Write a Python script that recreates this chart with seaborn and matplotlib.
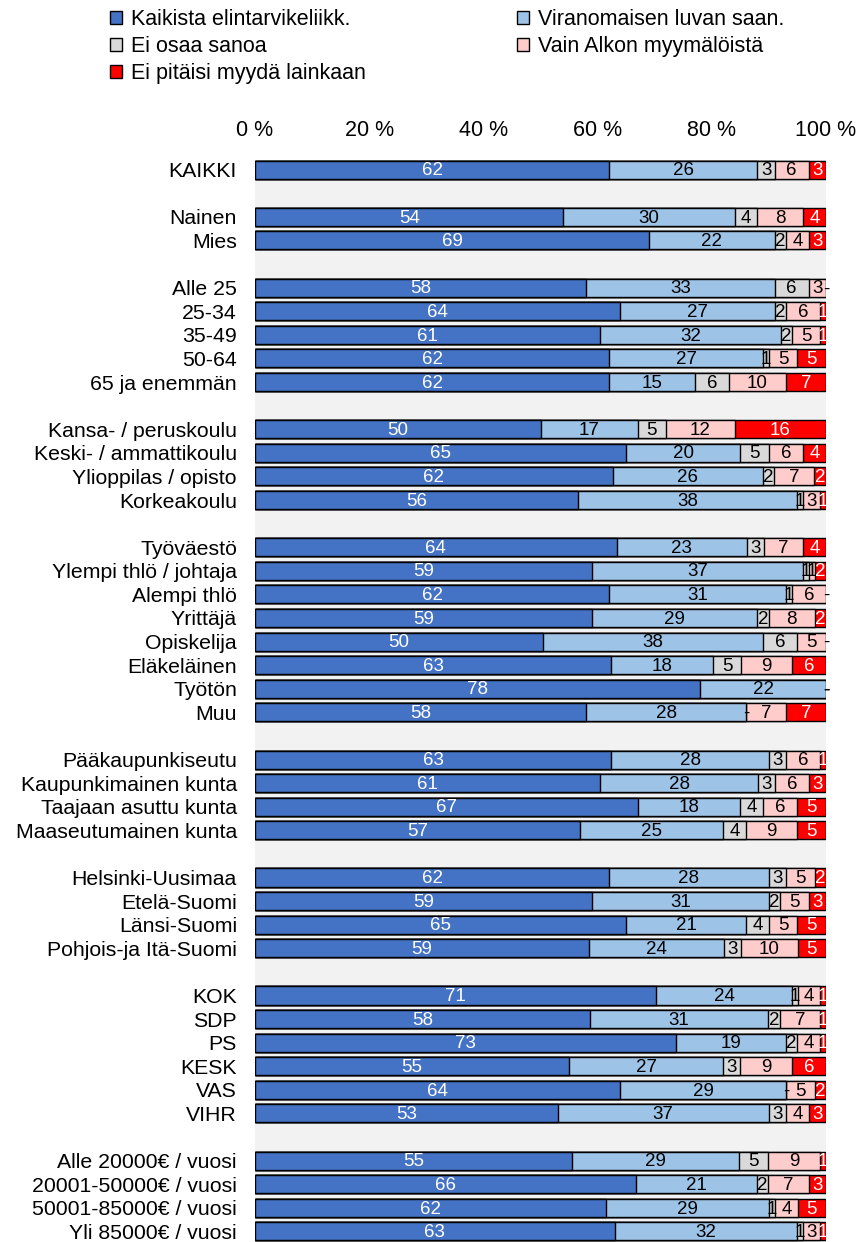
import numpy as np
import pandas as pd
import matplotlib.pyplot as plt
import seaborn as sb
from matplotlib.patches import Patch

series = ["Kaikista elintarvikeliikk.", "Viranomaisen luvan saan.", "Ei osaa sanoa",
          "Vain Alkon myymälöistä", "Ei pitäisi myydä lainkaan"]
colors = ["#4472C4", "#9DC3E6", "#D9D9D9", "#FFCCCC", "#FF0000"]
text_colors = ["white", "black", "black", "black", "white"]

# groups of rows, an empty row is left between the groups
groups = [
    ["KAIKKI"],
    ["Nainen", "Mies"],
    ["Alle 25", "25-34", "35-49", "50-64", "65 ja enemmän"],
    ["Kansa- / peruskoulu", "Keski- / ammattikoulu", "Ylioppilas / opisto", "Korkeakoulu"],
    ["Työväestö", "Ylempi thlö / johtaja", "Alempi thlö", "Yrittäjä", "Opiskelija",
     "Eläkeläinen", "Työtön", "Muu"],
    ["Pääkaupunkiseutu", "Kaupunkimainen kunta", "Taajaan asuttu kunta", "Maaseutumainen kunta"],
    ["Helsinki-Uusimaa", "Etelä-Suomi", "Länsi-Suomi", "Pohjois-ja Itä-Suomi"],
    ["KOK", "SDP", "PS", "KESK", "VAS", "VIHR"],
    ["Alle 20000€ / vuosi", "20001-50000€ / vuosi", "50001-85000€ / vuosi", "Yli 85000€ / vuosi"],
]

kaikista = [62, 54, 69, 58, 64, 61, 62, 62, 50, 65, 62, 56, 64, 59, 62, 59, 50, 63, 78, 58,
            63, 61, 67, 57, 62, 59, 65, 59, 71, 58, 73, 55, 64, 53, 55, 66, 62, 63]
viranomainen = [26, 30, 22, 33, 27, 32, 27, 15, 17, 20, 26, 38, 23, 37, 31, 29, 38, 18, 22, 28,
                28, 28, 18, 25, 28, 31, 21, 24, 24, 31, 19, 27, 29, 37, 29, 21, 29, 32]
eos = [3, 4, 2, 6, 2, 2, 1, 6, 5, 5, 2, 1, 3, 1, 1, 2, 6, 5, 0, 0,
       3, 3, 4, 4, 3, 2, 4, 3, 1, 2, 2, 3, 0, 3, 5, 2, 1, 1]
alko = [6, 8, 4, 3, 6, 5, 5, 10, 12, 6, 7, 3, 7, 1, 6, 8, 5, 9, 0, 7,
        6, 6, 6, 9, 5, 5, 5, 10, 4, 7, 4, 9, 5, 4, 9, 7, 4, 3]
ei_myyda = [3, 4, 3, 0, 1, 1, 5, 7, 16, 4, 2, 1, 4, 2, 0, 2, 0, 6, 0, 7,
            1, 3, 5, 5, 2, 3, 5, 5, 1, 1, 1, 6, 2, 3, 1, 3, 5, 1]

labels = [l for g in groups for l in g]
df = pd.DataFrame({"label": labels, series[0]: kaikista, series[1]: viranomainen,
                   series[2]: eos, series[3]: alko, series[4]: ei_myyda})

# 100 % stacked: share of row total, cumulated
vals = df[series].astype(float)
pct = vals.div(vals.sum(axis=1), axis=0) * 100
cum = pct.cumsum(axis=1)
for s in series:
    df["cum_" + s] = cum[s]

order = []
for gi, g in enumerate(groups):
    if gi > 0:
        order.append(" " * gi)
    order.extend(g)

plt.rcParams['font.family'] = ['Liberation Sans', 'DejaVu Sans']

fig = plt.figure(figsize=(8.59, 12.42), dpi=100)
ax = fig.add_axes([255 / 859, -0.001, 571 / 859, 1083 / 1242])
ax.set_facecolor("#F2F2F2")

for k in range(len(series) - 1, -1, -1):
    sb.barplot(data=df, x="cum_" + series[k], y="label", order=order, color=colors[k],
               saturation=1, edgecolor="black", linewidth=1.0, width=0.765,
               errorbar=None, orient="h", ax=ax)

pos = {l: order.index(l) for l in labels}
for r, row in df.iterrows():
    y = pos[row["label"]]
    left = 0
    for k, s in enumerate(series):
        w = pct.loc[r, s]
        txt = "-" if row[s] == 0 else str(int(row[s]))
        ax.text(left + w / 2, y + 0.05, txt, ha="center", va="center",
                color=text_colors[k] if row[s] else "black", fontsize=13.5)
        left += w

ax.set_xlim(0, 100)
ax.set_ylim(45.5, -0.4)
ax.set_xlabel("")
ax.set_ylabel("")
ax.xaxis.tick_top()
ax.set_xticks([0, 20, 40, 60, 80, 100])
ax.set_xticklabels(["0 %", "20 %", "40 %", "60 %", "80 %", "100 %"])
ax.tick_params(axis="x", length=0, pad=14, labelsize=15.5)
ax.tick_params(axis="y", length=0, pad=13, labelsize=15.3)
for sp in ax.spines.values():
    sp.set_visible(False)

handles = [Patch(facecolor=colors[k], edgecolor="black", linewidth=1) for k in [0, 2, 4, 1, 3]]
names = [series[k] for k in [0, 2, 4, 1, 3]]
fig.legend(handles, names, ncol=2, loc="upper left", bbox_to_anchor=(110 / 859, 1 - 9 / 1242),
           frameon=False, fontsize=15.5, handlelength=0.57, handleheight=0.57,
           handletextpad=0.42, labelspacing=0.28, columnspacing=7.0,
           borderaxespad=0, borderpad=0)

fig.savefig("out.png", dpi=100)
